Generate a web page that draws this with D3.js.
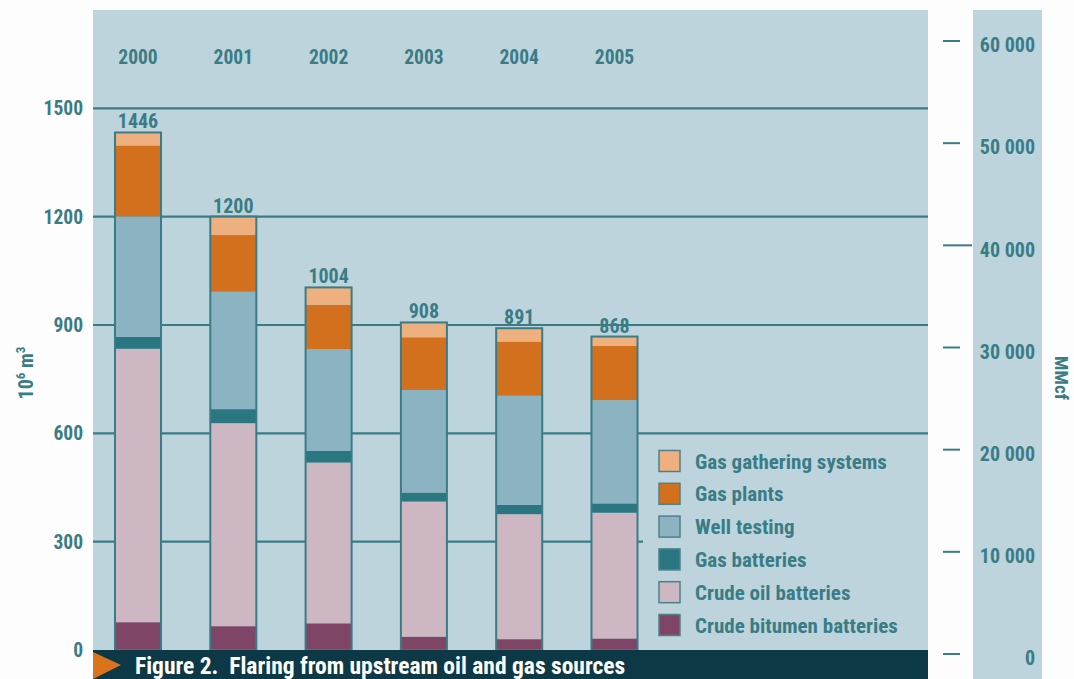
<!DOCTYPE html>
<html>
<head>
<meta charset="utf-8">
<script src="https://cdn.jsdelivr.net/npm/d3@7"></script>
<style>
  html, body { margin: 0; padding: 0; background: #fdfdfd; }
  svg { display: block; }
  text { font-family: "Liberation Sans Narrow", "Arial Narrow", "Roboto Condensed", "DejaVu Sans Condensed", sans-serif; font-weight: bold; }
</style>
</head>
<body>
<svg id="chart" width="1074" height="679"></svg>
<script>
// ---- data ----
const years = ["2000", "2001", "2002", "2003", "2004", "2005"];
const totalLabels = ["1446", "1200", "1004", "908", "891", "868"];
// stack order bottom -> top
const seriesNames = ["Crude bitumen batteries", "Crude oil batteries", "Gas batteries", "Well testing", "Gas plants", "Gas gathering systems"];
const crudeBitumen = [77, 66, 74, 37, 30, 32];
const crudeOil     = [757, 562, 445, 374, 346, 348];
const gasBatteries = [33, 39, 33, 25, 26, 26];
const wellTesting  = [334, 325, 281, 284, 302, 286];
const gasPlants    = [196, 157, 123, 146, 150, 150];
const gasGathering = [36, 51, 48, 41, 37, 26];
const leftTicks = [0, 300, 600, 900, 1200, 1500];
const rightTicks = [0, 10000, 20000, 30000, 40000, 50000, 60000];
const rightTickLabels = ["0", "10 000", "20 000", "30 000", "40 000", "50 000", "60 000"];
const caption = "Figure 2.  Flaring from upstream oil and gas sources";

const seriesValues = [crudeBitumen, crudeOil, gasBatteries, wellTesting, gasPlants, gasGathering];
const colors = ["#7e4567", "#cdb7c3", "#2b7781", "#8bb3c1", "#d3701d", "#efb080"];

const teal = "#3a7c86";
const panelBg = "#bdd4dc";

const svg = d3.select("#chart");

// panels
const panel = {x0: 93, x1: 928, y0: 10, y1: 650};
svg.append("rect").attr("x", panel.x0).attr("y", panel.y0)
  .attr("width", panel.x1 - panel.x0).attr("height", 679 - panel.y0).attr("fill", panelBg);
svg.append("rect").attr("x", 973).attr("y", 10).attr("width", 69).attr("height", 669).attr("fill", panelBg);

// scales
const y = d3.scaleLinear().domain([0, 1500]).range([650, 108.3]);
const yR = d3.scaleLinear().domain([0, 60000]).range([654, 41]);
const x = d3.scaleBand().domain(years).range([90.35, 662.15]).paddingInner(0.517).paddingOuter(0.2585);

// gridlines
svg.append("g").selectAll("line").data(leftTicks.filter(d => d > 0)).join("line")
  .attr("x1", panel.x0).attr("x2", panel.x1)
  .attr("y1", d => y(d)).attr("y2", d => y(d))
  .attr("stroke", teal).attr("stroke-width", 2.2);

// left axis labels
svg.append("g").selectAll("text").data(leftTicks).join("text")
  .attr("x", 83).attr("y", d => y(d)).attr("dy", "0.36em")
  .attr("text-anchor", "end").attr("font-size", 19.5).attr("fill", teal)
  .text(d => d);

// left axis title
const lt = svg.append("text").attr("transform", "translate(33,373) rotate(-90)")
  .attr("text-anchor", "middle").attr("font-size", 20).attr("fill", teal);
lt.append("tspan").text("10");
lt.append("tspan").attr("font-size", 13).attr("dy", -8).text("6");
lt.append("tspan").attr("dy", 8).text(" m");
lt.append("tspan").attr("font-size", 13).attr("dy", -8).text("3");

// year labels
svg.append("g").selectAll("text").data(years).join("text")
  .attr("x", d => x(d) + x.bandwidth() / 2).attr("y", 57).attr("dy", "0.36em")
  .attr("text-anchor", "middle").attr("font-size", 19.5).attr("fill", teal)
  .text(d => d);

// stacked data
const table = years.map((yr, i) => {
  const o = {year: yr};
  seriesNames.forEach((s, k) => o[s] = seriesValues[k][i]);
  return o;
});
const stacked = d3.stack().keys(seriesNames)(table);

const bars = svg.append("g");
stacked.forEach((layer, k) => {
  bars.append("g").attr("fill", colors[k]).selectAll("rect").data(layer).join("rect")
    .attr("x", d => x(d.data.year)).attr("width", x.bandwidth())
    .attr("y", d => y(d[1])).attr("height", d => y(d[0]) - y(d[1]));
});
// bar outlines
const topLayer = stacked[stacked.length - 1];
bars.append("g").selectAll("rect").data(topLayer).join("rect")
  .attr("x", d => x(d.data.year)).attr("width", x.bandwidth())
  .attr("y", d => y(d[1])).attr("height", d => y(0) - y(d[1]))
  .attr("fill", "none").attr("stroke", teal).attr("stroke-width", 2);

// total labels
svg.append("g").selectAll("text").data(topLayer).join("text")
  .attr("x", d => x(d.data.year) + x.bandwidth() / 2).attr("y", d => y(d[1]) - 4)
  .attr("text-anchor", "middle").attr("font-size", 20).attr("fill", teal)
  .text((d, i) => totalLabels[i]);

// legend
const lg = svg.append("g");
lg.append("rect").attr("x", 643).attr("y", 435).attr("width", panel.x1 - 643).attr("height", 215).attr("fill", panelBg);
const legendOrder = seriesNames.slice().reverse();
legendOrder.forEach((name, i) => {
  const k = seriesNames.indexOf(name);
  const cy = 461 + i * 32.8;
  lg.append("rect").attr("x", 659).attr("y", cy - 10.5).attr("width", 21).attr("height", 21)
    .attr("fill", colors[k]).attr("stroke", "#4f8089").attr("stroke-width", 1.5);
  lg.append("text").attr("x", 695).attr("y", cy).attr("dy", "0.36em")
    .attr("font-size", 21).attr("fill", teal).text(name);
});

// caption band
svg.append("rect").attr("x", panel.x0).attr("y", 650).attr("width", panel.x1 - panel.x0).attr("height", 29).attr("fill", "#0d3846");
svg.append("path").attr("d", "M93,652 L121,665 L93,679 Z").attr("fill", "#d9731c");
svg.append("text").attr("x", 135).attr("y", 674).attr("font-size", 23.5).attr("fill", "#ffffff").attr("xml:space", "preserve").text(caption);

// right axis
const rg = svg.append("g");
rg.selectAll("line").data(rightTicks).join("line")
  .attr("x1", 943).attr("x2", d => d === 40000 ? 972 : 960)
  .attr("y1", d => yR(d)).attr("y2", d => yR(d))
  .attr("stroke", teal).attr("stroke-width", 2);
rg.selectAll("text").data(rightTicks).join("text")
  .attr("x", 1035).attr("y", d => yR(d) + 4).attr("dy", "0.36em")
  .attr("text-anchor", "end").attr("font-size", 20).attr("fill", teal)
  .text((d, i) => rightTickLabels[i]);
svg.append("text").attr("transform", "translate(1055,378) rotate(90)")
  .attr("text-anchor", "middle").attr("font-size", 19).attr("fill", teal).text("MMcf");
</script>
</body>
</html>
